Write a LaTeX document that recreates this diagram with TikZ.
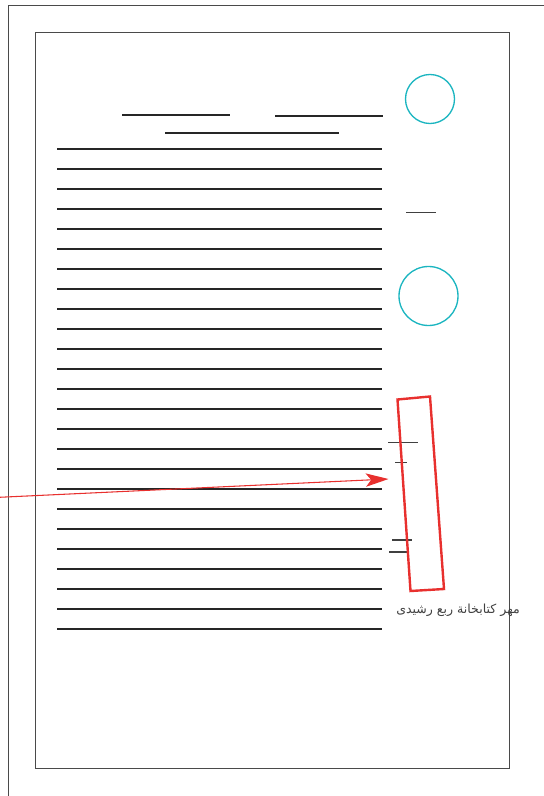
\documentclass[tikz,border=0pt]{standalone}
\usepackage{fontspec}
\newfontfamily\arabicfont[Script=Arabic]{DejaVu Sans}
\TeXXeTstate=1
\usetikzlibrary{arrows.meta}
\definecolor{framegray}{HTML}{4A4A4A}
\definecolor{stampred}{HTML}{E8302E}
\definecolor{sealcyan}{HTML}{1BB5C0}
\tikzset{
  frameline/.style={draw=framegray, line width=0.75pt},
  textline/.style={draw=black!85, line width=0.9pt},
  shortline/.style={draw=black!75, line width=0.85pt},
  seal/.style={draw=sealcyan, line width=1pt},
  stamp/.style={draw=stampred, line width=1.8pt},
  pointer/.style={draw=stampred, line width=0.8pt, -{Stealth[length=17pt,width=10pt,inset=4pt]}},
}
\begin{document}
\begin{tikzpicture}[x=0.75pt,y=-0.75pt]
\useasboundingbox (0,0) rectangle (543,796);
% outer frame (partly visible)
\draw[frameline] (8,800) -- (8,5) -- (550,5);
% inner frame
\draw[frameline] (35,32) rectangle (509,768);
% heading lines
\draw[textline] (122,115) -- (230,115);
\draw[textline] (275,116) -- (383,116);
\draw[textline] (165,133) -- (339,133);
% body lines
\foreach \i in {0,...,24} {
  \draw[textline] (57,149+20*\i) -- (382,149+20*\i);
}
% seals
\node[seal, circle, minimum size=49*0.75pt, inner sep=0pt] (s1) at (430,99) {};
\node[seal, circle, minimum size=59*0.75pt, inner sep=0pt] (s2) at (428.5,296) {};
\draw[shortline] (406,212.5) -- (436,212.5);
% short marks near the stamp
\draw[shortline] (388,442.5) -- (418,442.5);
\draw[shortline] (395,462.5) -- (407,462.5);
\draw[shortline] (392,540) -- (412,540);
\draw[shortline] (389,552) -- (407,552);
% stamp rectangle
\coordinate (r1) at (397.5,399.5);
\coordinate (r2) at (430,396.5);
\coordinate (r3) at (444,589);
\coordinate (r4) at (410.5,591);
\draw[stamp] (r1) -- (r2) -- (r3) -- (r4) -- cycle;
% arrow
\coordinate (a0) at (-5,497.5);
\coordinate (a1) at (388.5,479);
\draw[pointer] (a0) -- (a1);
% caption
\node[font=\arabicfont\fontsize{9.4}{11}\selectfont, text=black!75, inner sep=0pt] (cap) at (458,610) {\beginR مهر کتابخانة ربع رشیدی\endR};
\end{tikzpicture}
\end{document}
